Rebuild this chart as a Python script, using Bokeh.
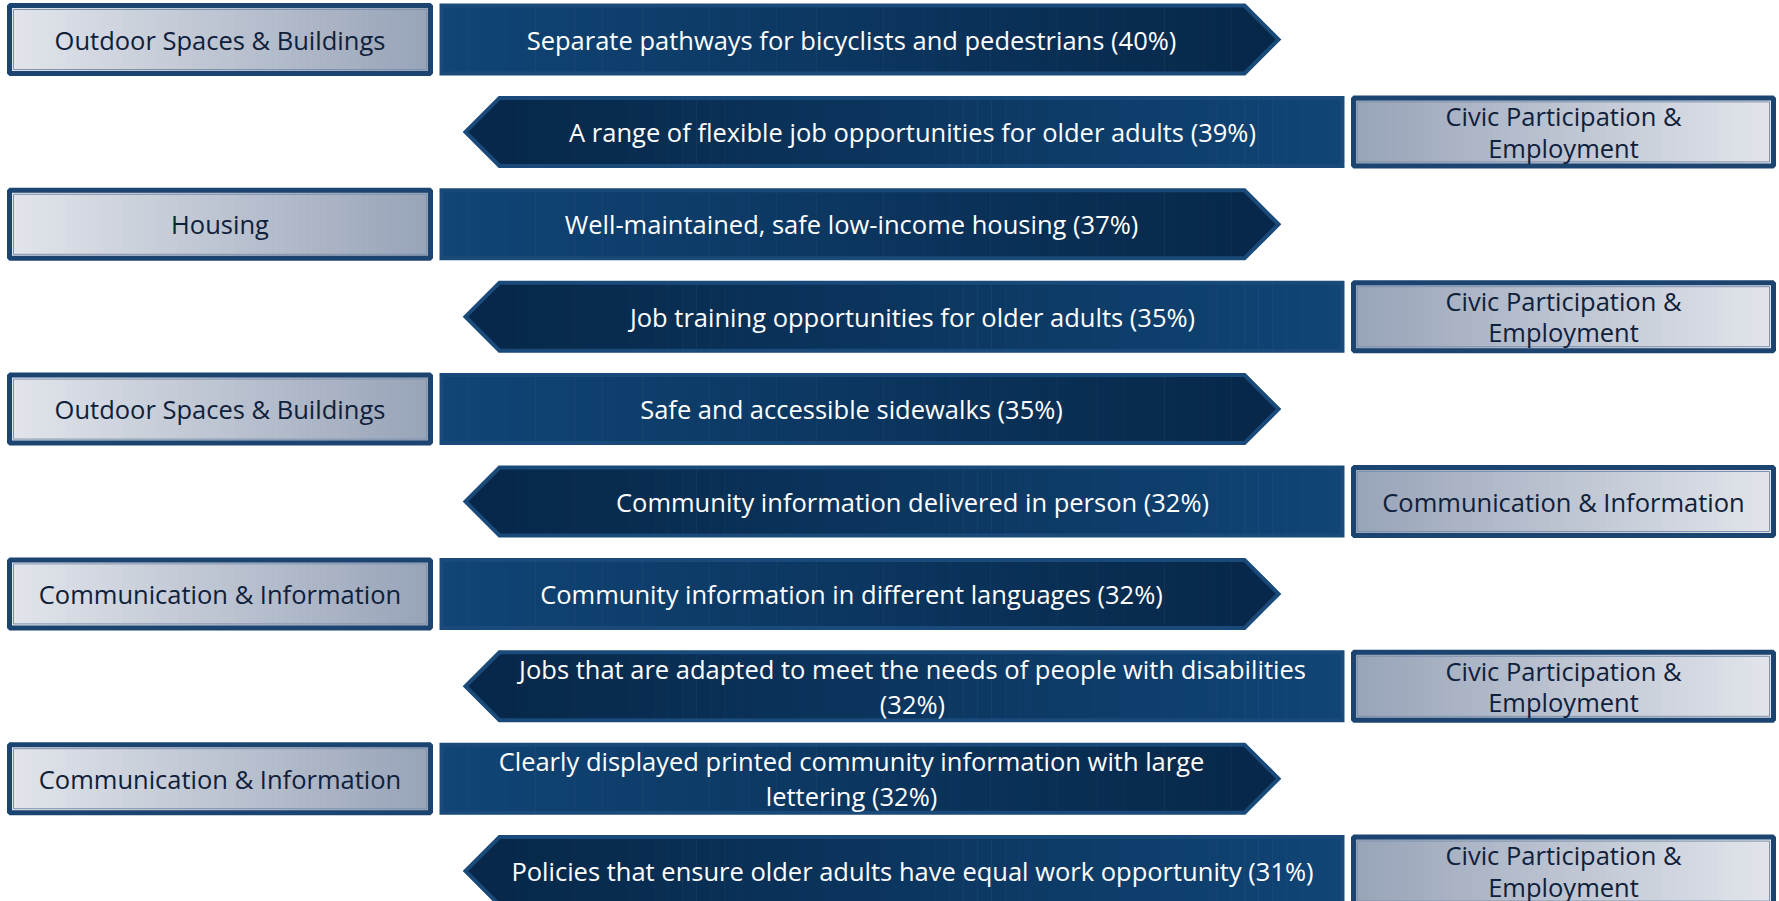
import numpy as np
from bokeh.plotting import figure
from bokeh.models import ColumnDataSource, Range1d
from bokeh.embed import file_html
from bokeh.resources import INLINE
from bokeh.core.properties import value

# ---------------- data ----------------
features = [
    "Separate pathways for bicyclists and pedestrians",
    "A range of flexible job opportunities for older adults",
    "Well-maintained, safe low-income housing",
    "Job training opportunities for older adults",
    "Safe and accessible sidewalks",
    "Community information delivered in person",
    "Community information in different languages",
    "Jobs that are adapted to meet the needs of people with disabilities\n",
    "Clearly displayed printed community information with large\nlettering",
    "Policies that ensure older adults have equal work opportunity",
]
percents = [40, 39, 37, 35, 35, 32, 32, 32, 32, 31]
domains = [
    "Outdoor Spaces & Buildings",
    "Civic Participation &\nEmployment",
    "Housing",
    "Civic Participation &\nEmployment",
    "Outdoor Spaces & Buildings",
    "Communication & Information",
    "Communication & Information",
    "Civic Participation &\nEmployment",
    "Communication & Information",
    "Civic Participation &\nEmployment",
]

# ---------------- style / layout ----------------
W, H = 1779, 901
FONT = "Open Sans"
FSIZE = "25.5px"
ROW0, PITCH, HALF = 39.0, 92.4, 34.0
TIP = 34.0
LBOX = (9.0, 430.0)
RBOX = (1353.0, 1773.0)
R_START, R_BODY_END = 441.0, 1244.0
L_TIP, L_END = 465.0, 1342.0

MED, DARK, ABORDER = "#104576", "#07284a", "#1a4a7a"
BLIGHT, BDARK, BBORDER = "#e2e5eb", "#97a3b8", "#1c4470"
NSTRIP = 60


def hex2rgb(h):
    h = h.lstrip("#")
    return np.array([int(h[i:i + 2], 16) for i in (0, 2, 4)], dtype=float)


def interp(c0, c1, t):
    a, b = hex2rgb(c0), hex2rgb(c1)
    c = a + (b - a) * t
    return "#%02x%02x%02x" % tuple(int(round(v)) for v in c)


strip = dict(left=[], right=[], top=[], bottom=[], color=[])


def add_strips(x0, x1, c0, c1, top, bottom):
    w = (x1 - x0) / NSTRIP
    for k in range(NSTRIP):
        strip["left"].append(x0 + k * w)
        strip["right"].append(min(x0 + (k + 1) * w + 0.6, x1))
        strip["top"].append(top)
        strip["bottom"].append(bottom)
        strip["color"].append(interp(c0, c1, (k + 0.5) / NSTRIP))


tips = dict(xs=[], ys=[], color=[])
outlines = dict(xs=[], ys=[])
boxes = dict(left=[], right=[], top=[], bottom=[])
atext = dict(x=[], y=[], text=[])
btext = dict(x=[], y=[], text=[])

for i, (feat, pct, dom) in enumerate(zip(features, percents, domains)):
    cy = ROW0 + i * PITCH
    top, bot = cy - HALF, cy + HALF
    label = f"{feat} ({pct}%)" if not feat.endswith("\n") else f"{feat}({pct}%)"
    if i % 2 == 0:
        # domain box on the left, arrow pointing right
        add_strips(LBOX[0], LBOX[1], BLIGHT, BDARK, top, bot)
        boxes["left"].append(LBOX[0]); boxes["right"].append(LBOX[1])
        btext["x"].append((LBOX[0] + LBOX[1]) / 2)
        add_strips(R_START, R_BODY_END, MED, DARK, top, bot)
        tip_x = R_BODY_END + TIP
        tips["xs"].append([R_BODY_END - 1, tip_x, R_BODY_END - 1])
        tips["ys"].append([top, cy, bot]); tips["color"].append(DARK)
        outlines["xs"].append([R_START, R_BODY_END, tip_x, R_BODY_END, R_START])
        outlines["ys"].append([top, top, cy, bot, bot])
        atext["x"].append((R_START + tip_x) / 2 - TIP / 4)
    else:
        # arrow pointing left, domain box on the right
        body0 = L_TIP + TIP
        add_strips(body0, L_END, DARK, MED, top, bot)
        tips["xs"].append([body0 + 1, L_TIP, body0 + 1])
        tips["ys"].append([top, cy, bot]); tips["color"].append(DARK)
        outlines["xs"].append([L_END, body0, L_TIP, body0, L_END])
        outlines["ys"].append([top, top, cy, bot, bot])
        atext["x"].append((L_TIP + L_END) / 2 + TIP / 4)
        add_strips(RBOX[0], RBOX[1], BDARK, BLIGHT, top, bot)
        boxes["left"].append(RBOX[0]); boxes["right"].append(RBOX[1])
        btext["x"].append((RBOX[0] + RBOX[1]) / 2)
    boxes["top"].append(top); boxes["bottom"].append(bot)
    btext["y"].append(cy); btext["text"].append(dom)
    atext["y"].append(cy); atext["text"].append(label)

p = figure(width=W, height=H, output_backend="svg", toolbar_location=None,
           x_range=Range1d(0, W), y_range=Range1d(H, 0),
           min_border=0, tools="")
p.axis.visible = False
p.grid.visible = False
p.outline_line_color = None
p.background_fill_color = "white"

p.quad(left="left", right="right", top="top", bottom="bottom",
       fill_color="color", line_color=None, source=ColumnDataSource(strip))
p.patches(xs="xs", ys="ys", fill_color="color", line_color=None,
          source=ColumnDataSource(tips))
p.patches(xs="xs", ys="ys", fill_color=None, line_color=ABORDER, line_width=4,
          line_join="miter", source=ColumnDataSource(outlines))
p.quad(left="left", right="right", top="top", bottom="bottom",
       fill_color=None, line_color=BBORDER, line_width=5,
       source=ColumnDataSource(boxes))
p.quad(left=[l + 4 for l in boxes["left"]], right=[r - 4 for r in boxes["right"]],
       top=[t + 4 for t in boxes["top"]], bottom=[b - 4 for b in boxes["bottom"]],
       fill_color=None, line_color="#7f92ad", line_width=1)

p.text(x="x", y="y", text="text", source=ColumnDataSource(atext),
       text_font=value(FONT), text_font_size=FSIZE, text_color="white",
       text_align="center", text_baseline="middle", text_line_height=1.02)
p.text(x="x", y="y", text="text", source=ColumnDataSource(btext),
       text_font=value(FONT), text_font_size=FSIZE, text_color="#0f203a",
       text_align="center", text_baseline="middle", text_line_height=0.92)

open("out.html", "w").write(file_html(p, INLINE))
